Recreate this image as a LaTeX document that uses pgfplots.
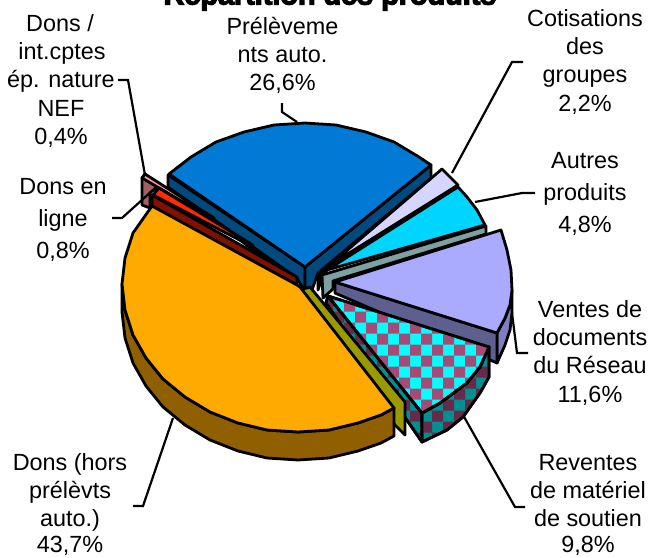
\documentclass[border=0pt]{standalone}
\usepackage{fontspec}
\setmainfont{Liberation Sans}
\newfontfamily\titlefont[FakeBold=4]{Liberation Sans Bold}
\usepackage{pgfplots}
\pgfplotsset{compat=1.18}
\usetikzlibrary{patterns}
\pgfdeclarepatternformonly{checker}{\pgfpoint{3pt}{3.3pt}}{\pgfpoint{25pt}{25.3pt}}{\pgfpoint{22pt}{22pt}}{%
  \pgfpathrectangle{\pgfpoint{3pt}{14.3pt}}{\pgfpoint{11pt}{11pt}}%
  \pgfpathrectangle{\pgfpoint{14pt}{3.3pt}}{\pgfpoint{11pt}{11pt}}%
  \pgfusepath{fill}}
\definecolor{cOr}{HTML}{FFAA00}\definecolor{cOrS}{HTML}{905F00}
\definecolor{cBl}{HTML}{007AD5}\definecolor{cBlS}{HTML}{004A80}
\definecolor{cCy}{HTML}{00D5FF}\definecolor{cLa}{HTML}{D5D5FF}
\definecolor{cPu}{HTML}{AAAAFF}\definecolor{cPuF}{HTML}{5F5F8F}\definecolor{cPuS}{HTML}{7F7FBF}
\definecolor{cGr}{HTML}{7FA0A0}\definecolor{cDR}{HTML}{801000}\definecolor{cRe}{HTML}{FF2A00}
\definecolor{cPi}{HTML}{FF9F9F}\definecolor{cRo}{HTML}{A65F5F}\definecolor{cOl}{HTML}{999900}
\definecolor{cMa}{HTML}{A64B76}\definecolor{cMaD}{HTML}{662A4A}\definecolor{cTe}{HTML}{009090}
\definecolor{cCk}{HTML}{00FFFF}
\pgfplotsset{pc/.style={draw=black,line width=2.8pt,line join=round,fill=#1,mark=none},
  ld/.style={draw=black,line width=2.2pt,line join=miter,mark=none,fill=none}}
\newcommand{\lab}[3]{\node[anchor=base,inner sep=0pt,font=\fontsize{23.4}{28}\selectfont] at (axis cs:#1,#2) {#3};}
\begin{document}
\begin{tikzpicture}
\path[use as bounding box] (0,0) rectangle (650pt,557pt);
\begin{axis}[at={(0,0)},anchor=south west,width=650pt,height=557pt,scale only axis,
  xmin=0,xmax=650,ymin=0,ymax=557,y dir=reverse,axis lines=none,clip=false]
% lavender
\addplot[pc=cLa] coordinates {(442,169)(458,185)(330,265)} -- cycle;
% black gaps at the centre
\addplot[pc=black] coordinates {(318,272)(332,263)(327,270)(322,278)(318,290)} -- cycle;
\addplot[pc=black] coordinates {(205,213)(297,267)(297,277)(253,250)} -- cycle;
% cyan
\addplot[pc=cCy] coordinates {(458,187)(467,197)(477,210)(485,225)(327,270)} -- cycle;
% grey face
\addplot[pc=cGr] coordinates {(486,226)(486,234)(333,281)(333,289)(323,298)(322,275)} -- cycle;
% blue
\addplot[pc=cBlS] coordinates {(168,175)(305,267)(305,292)(297,278)(168,187)} -- cycle;
\addplot[pc=cBlS] coordinates {(305,267)(431,165)(431,178)(318,273)(312,290)(305,292)} -- cycle;
\addplot[pc=cBl] coordinates {(305,267)(169,174)(191,157)(216,142)(244,132)(274,125)(305,123)(336,125)(366,132)(394,142)(419,157)(431,165)} -- cycle;
% pink
\addplot[pc=cRo] coordinates {(142,178)(145,174)(158,186)(150,193)(150,208)(142,205)} -- cycle;
\addplot[pc=cPi] coordinates {(145,174)(142,178)(212,219)(214,218)} -- cycle;
% red
\addplot[pc=cRe] coordinates {(153,195)(159,188)(253,245)(253,247)} -- cycle;
% dark red
\addplot[pc=cDR] coordinates {(152,195)(297,277)(297,285)(152,207)} -- cycle;
% purple
\addplot[pc=cPuS] coordinates {(497,333)(505,318)(510,305)(512,290)(512,313)(510,330)(505,345)(497,363)} -- cycle;
\addplot[pc=cPuF] coordinates {(335,282)(497,333)(497,363)(335,293)} -- cycle;
\addplot[pc=cPu] coordinates {(335,282)(501,230)(507,250)(511,270)(512,290)(510,305)(505,318)(497,333)} -- cycle;
% checker
\addplot[pc=cTe,pattern=checker,pattern color=cMaD,preaction={fill=cTe}] coordinates {(328,296)(422,413)(422,442)(326,303)} -- cycle;
\addplot[pc=cTe,pattern=checker,pattern color=cMaD,preaction={fill=cTe}] coordinates {(422,413)(440,403)(467,383)(480,367)(489,347)(489,377)(480,393)(463,417)(447,430)(422,442)} -- cycle;
\addplot[pc=cCk,pattern=checker,pattern color=cMa,preaction={fill=cCk}] coordinates {(328,296)(489,347)(480,367)(467,383)(440,403)(422,413)} -- cycle;
% olive
\addplot[pc=cOl] coordinates {(310,287)(405,402)(405,435)(395,425)(300,290)} -- cycle;
% orange
\addplot[pc=cOrS] coordinates {(122,284)(122,312)(125,338)(133,363)(146,386)(163,407)(185,425)(210,440)(238,451)(267,458)(298,460)(329,458)(358,451)(381,443)(394,436)(394,408)(381,415)(358,423)(329,430)(298,432)(267,430)(238,423)(210,412)(185,397)(163,379)(146,358)(133,335)(125,310)} -- cycle;
\addplot[pc=cOr] coordinates {(152,206)(133,233)(125,258)(122,284)(125,310)(133,335)(146,358)(163,379)(185,397)(210,412)(238,423)(267,430)(298,432)(329,430)(358,423)(381,415)(394,408)(300,287)(297,285)} -- cycle;
% leader lines
\addplot[ld] coordinates {(118,80)(128,80)(145,175)};
\addplot[ld] coordinates {(112,218)(122,218)(153,190)};
\addplot[ld] coordinates {(282,103)(282,112)(297,122)};
\addplot[ld] coordinates {(452,173)(512,62)(523,62)};
\addplot[ld] coordinates {(475,202)(522,193)(535,193)};
\addplot[ld] coordinates {(512,313)(517,353)(528,353)};
\addplot[ld] coordinates {(463,415)(515,507)(525,507)};
\addplot[ld] coordinates {(173,418)(143,506)(133,506)};
% labels
\lab{60}{31}{Dons /}\lab{62}{59}{int.cptes}\lab{61}{87}{ép. nature}\lab{61}{116}{NEF}\lab{61}{144}{0,4\%}
\lab{63}{194}{Dons en}\lab{63}{226}{ligne}\lab{63}{258}{0,8\%}
\lab{282.5}{34}{Prélèveme}\lab{282.5}{62}{nts auto.}\lab{282.5}{90}{26,6\%}
\lab{585}{26}{Cotisations}\lab{585}{54}{des}\lab{585}{82}{groupes}\lab{585}{111}{2,2\%}
\lab{585}{168}{Autres}\lab{585}{200}{produits}\lab{585}{232}{4,8\%}
\lab{590}{317}{Ventes de}\lab{590}{345}{documents}\lab{590}{373}{du Réseau}\lab{590}{402}{11,6\%}
\lab{588}{470}{Reventes}\lab{588}{498}{de matériel}\lab{588}{526}{de soutien}\lab{588}{552.5}{9,8\%}
\lab{70}{470}{Dons (hors}\lab{70}{498}{prélèvts}\lab{70}{526}{auto.)}\lab{70}{552.5}{43,7\%}
\node[anchor=base,inner sep=0pt,font=\titlefont\fontsize{28.8}{30}\selectfont] at (axis cs:330,4.5) {Répartition des produits};
\end{axis}
\end{tikzpicture}
\end{document}
